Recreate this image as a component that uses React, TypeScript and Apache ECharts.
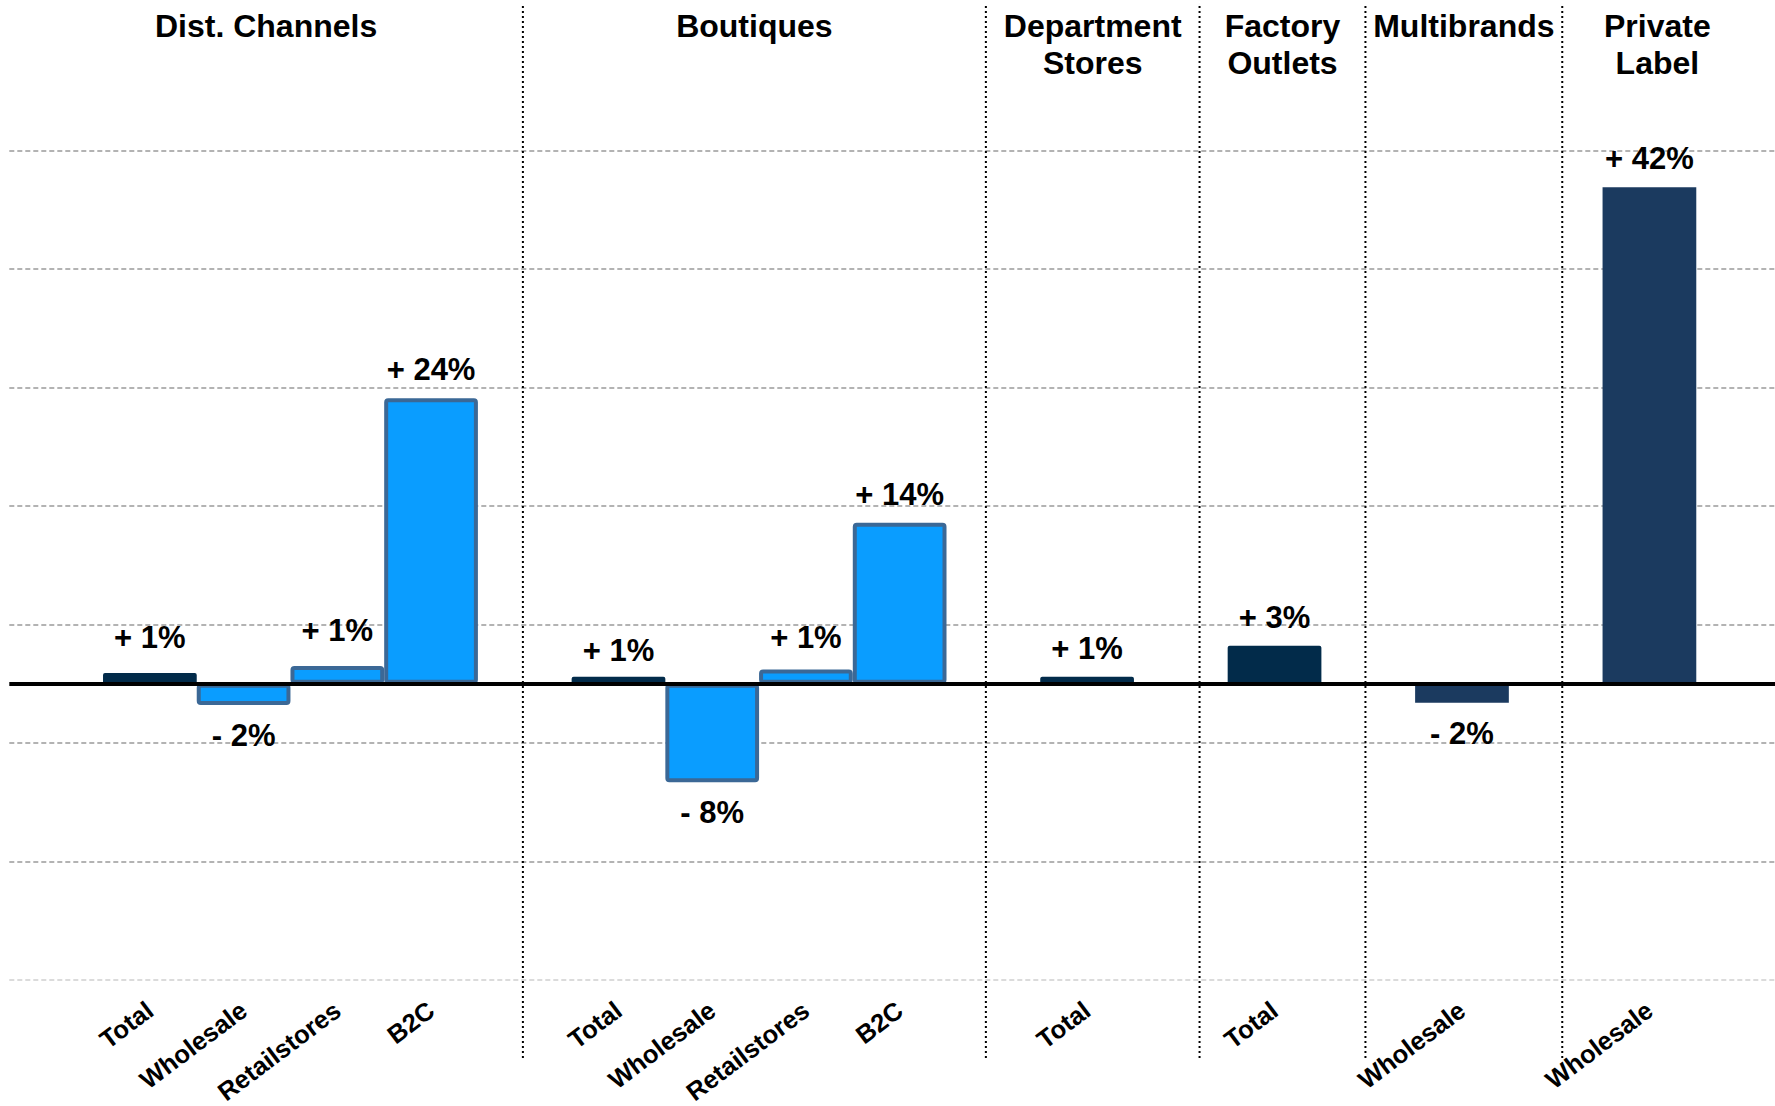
import React, { useEffect, useRef } from "react";
import * as echarts from "echarts";

// ---- data ----
const groups = ["Dist. Channels", "Boutiques", "Department\nStores", "Factory\nOutlets", "Multibrands", "Private\nLabel"];
const categories = ["Total", "Wholesale", "Retailstores", "B2C", "Total", "Wholesale", "Retailstores", "B2C", "Total", "Total", "Wholesale", "Wholesale"];
const categoryGroup = [0, 0, 0, 0, 1, 1, 1, 1, 2, 3, 4, 5];
const values = [0.9, -1.8, 1.5, 24.1, 0.6, -8.3, 1.2, 13.6, 0.6, 3.2, -1.6, 41.9];
const valueLabels = ["+ 1%", "- 2%", "+ 1%", "+ 24%", "+ 1%", "- 8%", "+ 1%", "+ 14%", "+ 1%", "+ 3%", "- 2%", "+ 42%"];
const yMin = -25;
const yMax = 45;
const yStep = 10;
// group separators, in category-slot units from the plot's left edge
const separatorSlots = [5.48, 10.42, 12.7, 14.47, 16.57];
const headerRightSlot = 18.6;
// extra label lift (px) for a few hand-placed value labels
const labelLift = [7, 0, 7, 0, -2, 0, 4, 0, 0, 0, 0, 0];

const FONT = '"Liberation Sans", Arial, Helvetica, sans-serif';
const DARK = "#022b4a";
const NAVY = "#1b3a5f";
const BRIGHT = "#0a9dff";
const BRIGHT_BORDER = "#3b6896";

function buildSlots() {
  const cats: string[] = [""];
  const items: (number | null)[] = [null];
  groups.forEach((_, gi) => {
    categoryGroup.forEach((cg, i) => {
      if (cg === gi) {
        cats.push(categories[i]);
        items.push(i);
      }
    });
    cats.push("");
    items.push(null);
  });
  return { cats, items };
}

function styleFor(i: number) {
  const g = categoryGroup[i];
  if (categories[i] === "Total") {
    return { color: DARK, borderRadius: 2 };
  }
  if (g === 0 || g === 1) {
    return { color: BRIGHT, borderColor: BRIGHT_BORDER, borderWidth: 4, borderRadius: 2 };
  }
  return { color: NAVY };
}

export default function App() {
  const ref = useRef<HTMLDivElement>(null);

  useEffect(() => {
    if (!ref.current) return;
    const chart = echarts.init(ref.current, undefined, { renderer: "svg" });
    const { cats, items } = buildSlots();

    const data = items.map((i) =>
      i === null
        ? "-"
        : {
            value: values[i],
            itemStyle: styleFor(i),
            label: {
              position: values[i] >= 0 ? "top" : "bottom",
              distance: (values[i] >= 0 ? 13 : 15) + labelLift[i],
            },
          }
    );

    const gridColors = [] as string[];
    for (let v = yMin; v <= yMax; v += yStep) gridColors.push(v === yMin ? "#cfcfcf" : "#9a9a9a");

    chart.setOption({
      animation: false,
      textStyle: { fontFamily: FONT },
      grid: { left: 9.3, right: 0, top: 150.6, bottom: 126, containLabel: false, outerBoundsMode: "none" },
      xAxis: {
        type: "category",
        data: cats,
        axisLine: { show: false },
        axisTick: { show: false },
        splitLine: { show: false },
        axisLabel: {
          interval: 0,
          rotate: 37,
          margin: 27,
          color: "#000",
          fontSize: 25.5,
          fontWeight: "bold",
          fontFamily: FONT,
        },
      },
      yAxis: {
        type: "value",
        min: yMin,
        max: yMax,
        interval: yStep,
        axisLine: { show: false },
        axisTick: { show: false },
        axisLabel: { show: false },
        splitLine: {
          show: true,
          lineStyle: { color: gridColors, width: 1.5, type: [5, 3] },
        },
      },
      series: [
        {
          type: "bar",
          data,
          barCategoryGap: "0%",
          barGap: "0%",
          label: {
            show: true,
            color: "#000",
            fontSize: 31,
            fontWeight: "bold",
            fontFamily: FONT,
            formatter: (p: any) => {
              const i = items[p.dataIndex];
              return i === null ? "" : valueLabels[i];
            },
          },
          markLine: {
            silent: true,
            symbol: ["none", "none"],
            label: { show: false },
            lineStyle: { color: "#000", width: 4, type: "solid" },
            data: [{ yAxis: 0 }],
          },
        },
      ],
    });

    const c0 = chart.convertToPixel({ xAxisIndex: 0 }, 0) as number;
    const c1 = chart.convertToPixel({ xAxisIndex: 0 }, 1) as number;
    const w = c1 - c0;
    const edge = c0 - w / 2;
    const sx = (s: number) => edge + s * w;

    const bounds = [0, ...separatorSlots, headerRightSlot];
    const graphics: any[] = [];
    separatorSlots.forEach((s) => {
      graphics.push({
        type: "line",
        silent: true,
        z: 50,
        shape: { x1: sx(s), y1: 6, x2: sx(s), y2: 1058 },
        style: { stroke: "#000", lineWidth: 2, lineDash: [2, 3] },
      });
    });
    groups.forEach((g, gi) => {
      const cx = sx((bounds[gi] + bounds[gi + 1]) / 2);
      graphics.push({
        type: "text",
        silent: true,
        z: 50,
        x: cx,
        y: 7,
        style: {
          text: g,
          align: "center",
          verticalAlign: "top",
          fontSize: 32,
          fontWeight: "bold",
          fontFamily: FONT,
          lineHeight: 37,
          fill: "#000",
        },
      });
    });
    chart.setOption({ graphic: graphics });

    return () => chart.dispose();
  }, []);

  return (
    <div style={{ position: "absolute", left: 0, top: 0, width: 1775, height: 1106, overflow: "hidden", background: "#fff" }}>
      <div ref={ref} style={{ width: 1790, height: 1106 }} />
    </div>
  );
}
